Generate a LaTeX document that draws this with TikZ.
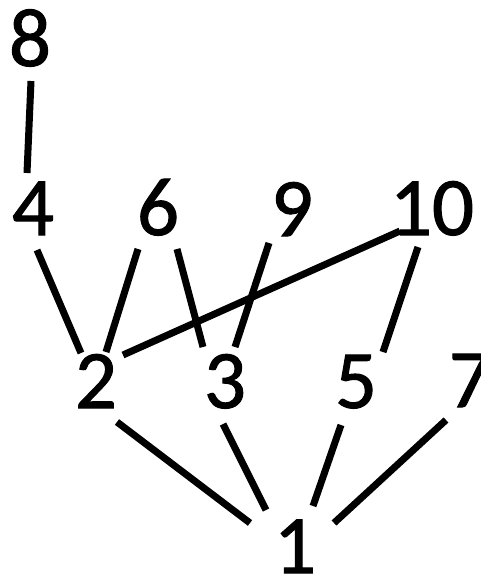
\documentclass[tikz,border=0pt]{standalone}
\usepackage{fontspec}
\setmainfont{Carlito}
\newfontfamily\numfont{Carlito}[FakeBold=1.2]
\usetikzlibrary{calc}
\begin{document}
\begin{tikzpicture}[x=1pt,y=-1pt,
  num/.style={inner sep=0pt,anchor=base,font=\numfont\fontsize{83}{83}\selectfont},
  edge/.style={line width=7pt,line cap=butt}]
\useasboundingbox (0,0) rectangle (481,576);
\node[num] (n8) at (30,66) {8};
\node[num] (n4) at (33,235) {4};
\node[num] (n6) at (158,235) {6};
\node[num] (n9) at (292,236) {9};
\node[num] (n10) at (432,235) {10};
\node[num] (n2) at (96,408) {2};
\node[num] (n3) at (225,408) {3};
\node[num] (n5) at (356,408) {5};
\node[num] (n7) at (470,407) {7};
\node[num] (n1) at (295,573) {1};
\draw[edge] ($(n8.base)+(1,15)$) -- ($(n4.base)+(-6,-62)$);
\draw[edge] ($(n4.base)+(4,15)$) -- ($(n2.base)+(-15,-55)$);
\draw[edge] ($(n6.base)+(-20,14)$) -- ($(n2.base)+(10,-56)$);
\draw[edge] ($(n6.base)+(19,14)$) -- ($(n3.base)+(-22,-61)$);
\draw[edge] ($(n9.base)+(-23,7)$) -- ($(n3.base)+(10,-61)$);
\draw[edge] ($(n10.base)+(-32,-4)$) -- ($(n2.base)+(27,-53)$);
\draw[edge] ($(n10.base)+(-14,12)$) -- ($(n5.base)+(27,-56)$);
\draw[edge] ($(n2.base)+(21,14)$) -- ($(n1.base)+(-45,-50)$);
\draw[edge] ($(n3.base)+(-2,16)$) -- ($(n1.base)+(-29,-63)$);
\draw[edge] ($(n5.base)+(-15,17)$) -- ($(n1.base)+(18,-67)$);
\draw[edge] ($(n7.base)+(-24,13)$) -- ($(n1.base)+(39,-50)$);
\end{tikzpicture}
\end{document}
